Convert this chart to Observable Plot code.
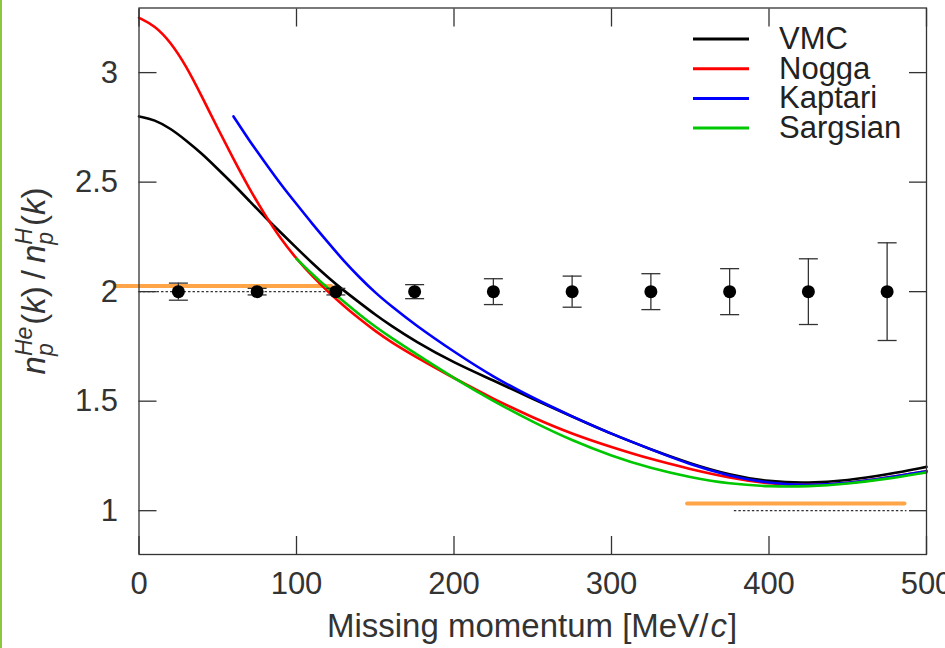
<!DOCTYPE html>
<html><head><meta charset="utf-8">
<script src="https://cdn.jsdelivr.net/npm/d3@7"></script>
<script src="https://cdn.jsdelivr.net/npm/@observablehq/plot@0.6"></script>
<style>
html,body{margin:0;padding:0;background:#fff;overflow:hidden}
#wrap{position:relative;width:945px;height:648px}
#edgeL{position:absolute;left:0;top:0;width:2px;height:648px;background:#8cc63f}
</style></head><body><div id="wrap"><div id="edgeL"></div></div>
<script>
// ---- data ----
const vmcX = [0,10,20,30,40,50,60,70,80,90,100,110,120,130,140,150,160,175,200,225,250,275,300,325,350,375,400,425,450,475,500];
const vmcY = [2.80,2.785,2.745,2.69,2.63,2.56,2.49,2.415,2.34,2.27,2.20,2.13,2.065,2.005,1.95,1.895,1.845,1.775,1.675,1.595,1.51,1.43,1.35,1.28,1.215,1.163,1.132,1.125,1.138,1.165,1.20];
const noggaX = [0,10,20,30,40,50,60,70,80,90,100,110,120,130,140,150,160,175,200,225,250,275,300,325,350,375,400,425,450,475,500];
const noggaY = [3.25,3.215,3.14,3.03,2.89,2.745,2.605,2.47,2.35,2.24,2.15,2.07,2.00,1.935,1.875,1.82,1.77,1.705,1.605,1.51,1.425,1.35,1.29,1.235,1.19,1.15,1.122,1.115,1.125,1.15,1.18];
const kaptariX = [60,70,80,90,100,110,120,130,140,150,160,175,200,225,250,275,300,325,350,375,400,425,450,475,500];
const kaptariY = [2.80,2.69,2.59,2.49,2.40,2.31,2.225,2.14,2.065,1.995,1.935,1.85,1.725,1.61,1.515,1.43,1.35,1.28,1.21,1.158,1.125,1.115,1.125,1.15,1.18];
const sargsianX = [100,110,120,130,140,150,160,175,200,225,250,275,300,325,350,375,400,425,450,475,500];
const sargsianY = [2.15,2.08,2.015,1.955,1.895,1.84,1.79,1.72,1.605,1.50,1.405,1.32,1.25,1.193,1.152,1.122,1.11,1.11,1.123,1.145,1.175];

const dataX = [25,75,125,175,225,275,325,375,425,475];
const dataY = [2,2,2,2,2,2,2,2,2,2];
const dataErr = [0.039,0.015,0.015,0.032,0.059,0.071,0.082,0.105,0.15,0.223];

const bandHighX = [-15,122];   const bandHighY = [2.026,2.026];
const bandLowX = [348,486];    const bandLowY = [1.033,1.033];
const dotHighX = [0,125];      const dotHighY = [2,2];
const dotLowX = [378,487];     const dotLowY = [1,1];

const seriesNames = ["VMC","Nogga","Kaptari","Sargsian"];
const seriesColors = ["#000000","#ff0000","#0000ff","#00c800"];
const xTicks = [0,100,200,300,400,500];
const yTicks = [1,1.5,2,2.5,3];

// ---- build ----
const zip = (xs, ys) => xs.map((x, i) => ({x, y: ys[i]}));
const seriesData = [zip(vmcX, vmcY), zip(noggaX, noggaY), zip(kaptariX, kaptariY), zip(sargsianX, sargsianY)];
const points = dataX.map((x, i) => ({x, y: dataY[i], lo: dataY[i] - dataErr[i], hi: dataY[i] + dataErr[i]}));
const capSymbol = {draw(ctx) { ctx.moveTo(-9.5, 0); ctx.lineTo(9.5, 0); }};
const axisColor = "#333";

const chart = Plot.plot({
  width: 945, height: 648,
  marginLeft: 138.5, marginRight: 19, marginTop: 7.5, marginBottom: 94,
  x: {domain: [0, 500]},
  y: {domain: [0.8, 3.295]},
  style: {fontFamily: "'Liberation Sans', Arial, sans-serif", fontSize: "31px", color: axisColor, background: "#fff", overflow: "visible"},
  marks: [
    Plot.line(zip(bandHighX, bandHighY), {x: "x", y: "y", stroke: "#ffa447", strokeWidth: 4}),
    Plot.line(zip(bandLowX, bandLowY), {x: "x", y: "y", stroke: "#ffa447", strokeWidth: 4}),
    Plot.line(zip(dotHighX, dotHighY), {x: "x", y: "y", stroke: "#333", strokeWidth: 1.2, strokeDasharray: "1.5,3"}),
    Plot.line(zip(dotLowX, dotLowY), {x: "x", y: "y", stroke: "#333", strokeWidth: 1.2, strokeDasharray: "1.5,3"}),
    ...seriesData.map((d, i) => Plot.line(d, {x: "x", y: "y", stroke: seriesColors[i], strokeWidth: 2.6, curve: "basis"})),
    Plot.ruleX(points, {x: "x", y1: "lo", y2: "hi", stroke: "#333", strokeWidth: 1.3}),
    Plot.dot(points, {x: "x", y: "lo", symbol: capSymbol, r: 5, stroke: "#333", strokeWidth: 1.3, fill: "none"}),
    Plot.dot(points, {x: "x", y: "hi", symbol: capSymbol, r: 5, stroke: "#333", strokeWidth: 1.3, fill: "none"}),
    Plot.dot(points, {x: "x", y: "y", r: 6.5, fill: "#000"}),
    Plot.frame({stroke: axisColor, strokeWidth: 1.3}),
    Plot.axisX(xTicks, {anchor: "bottom", tickSize: -18, fill: "none", stroke: axisColor, strokeWidth: 1.3}),
    Plot.axisX(xTicks, {anchor: "top", tickSize: -18, fill: "none", stroke: axisColor, strokeWidth: 1.3}),
    Plot.axisY(yTicks, {anchor: "left", tickSize: -18, fill: "none", stroke: axisColor, strokeWidth: 1.3}),
    Plot.axisY(yTicks, {anchor: "right", tickSize: -18, fill: "none", stroke: axisColor, strokeWidth: 1.3}),
    Plot.axisX(xTicks, {anchor: "bottom", tickSize: 0, tickPadding: 17, label: null, fontSize: 31, fill: axisColor}),
    Plot.axisY(yTicks, {anchor: "left", tickSize: 0, tickPadding: 21, label: null, fontSize: 31, fill: axisColor, tickFormat: d => String(d)})
  ]
});
document.getElementById("wrap").appendChild(chart);

// ---- text overlays (legend, axis titles) ----
const svg = d3.select(chart);
const FONT = "'Liberation Sans', Arial, sans-serif";

// legend
const lg = svg.append("g").attr("font-family", FONT).attr("font-size", 31).attr("fill", "#222").attr("text-anchor", "start");
seriesNames.forEach((name, i) => {
  const yy = 39 + i * 29.7;
  lg.append("line").attr("x1", 693).attr("x2", 749).attr("y1", yy).attr("y2", yy)
    .attr("stroke", seriesColors[i]).attr("stroke-width", 3);
  lg.append("text").attr("x", 779).attr("y", yy + 10).attr("text-anchor", "start").text(name);
});

// x title
const xt = svg.append("text").attr("x", 532).attr("y", 637).attr("text-anchor", "middle")
  .attr("font-family", FONT).attr("font-size", 33).attr("fill", axisColor);
xt.append("tspan").text("Missing momentum [MeV/");
xt.append("tspan").attr("font-style", "italic").attr("dx", 2).text("c");
xt.append("tspan").attr("dx", 1).text("]");

// y title: n_p^He(k) / n_p^H(k)
const fs = 33, sfs = 23;
const yt = svg.append("text").attr("transform", "translate(45,281) rotate(-90)")
  .attr("text-anchor", "middle").attr("font-family", FONT).attr("font-size", fs).attr("fill", axisColor);
const parts = [
  {t: "n", it: true}, {t: "He", it: true, sup: true}, {t: "p", it: true, sub: true},
  {t: "(", pre: 2}, {t: "k", it: true}, {t: ")"}, {t: "/", pre: 7}, {t: "n", it: true, pre: 7},
  {t: "H", it: true, sup: true}, {t: "p", it: true, sub: true},
  {t: "(", pre: 2}, {t: "k", it: true}, {t: ")"}
];
let cur = 0, supW = 0, extra = 0;
for (const p of parts) {
  const shift = p.sup ? -13 : p.sub ? 8 : 0;
  const ts = yt.append("tspan").text(p.t).attr("dy", shift - cur);
  cur = shift;
  if (p.sup || p.sub) ts.attr("font-size", sfs);
  if (p.it) ts.attr("font-style", "italic");
  let dx = (p.pre || 0) + extra;
  extra = 0;
  if (p.sub) dx -= supW;
  ts.attr("dx", dx);
  const w = ts.node().getComputedTextLength();
  if (p.sup) supW = w;
  if (p.sub) { extra = Math.max(0, supW - w); supW = 0; }
}
</script>
</body></html>
